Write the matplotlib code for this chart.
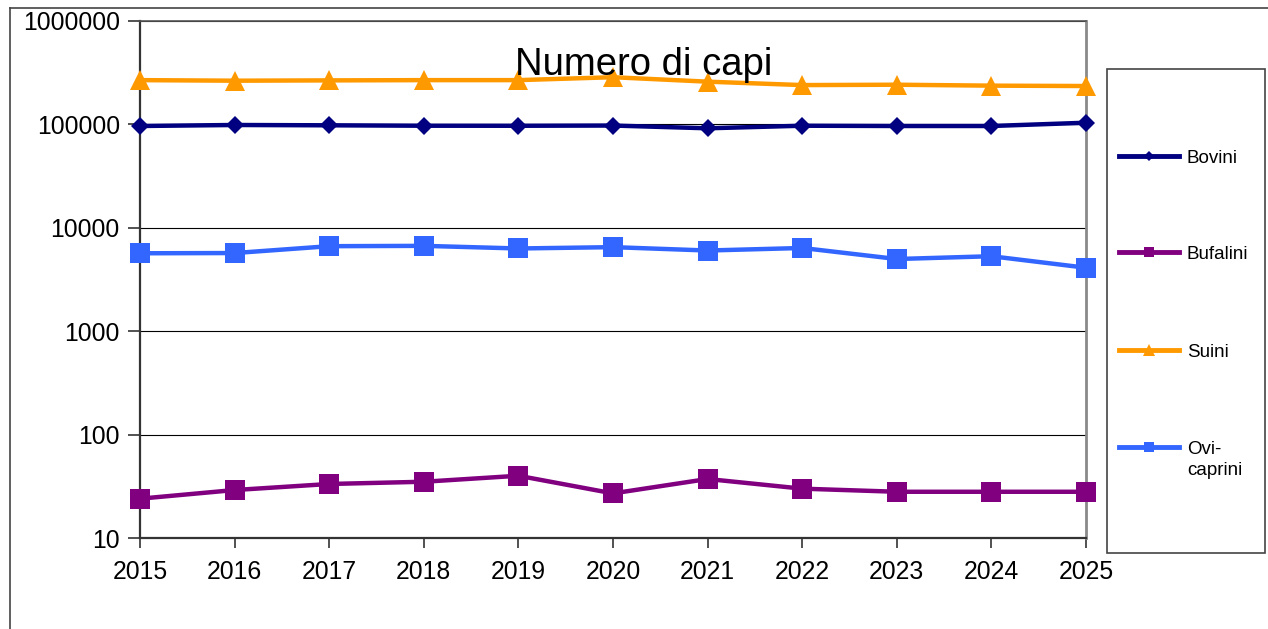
import matplotlib
matplotlib.use("Agg")
import matplotlib.pyplot as plt
from matplotlib.lines import Line2D
from matplotlib.patches import Rectangle
from matplotlib.ticker import FixedLocator, FixedFormatter, NullLocator

# ── Data ──────────────────────────────────────────────────────────────────────

years = [2015, 2016, 2017, 2018, 2019, 2020, 2021, 2022, 2023, 2024, 2025]

bovini   = [96500, 98700, 98000, 97100, 97000, 97500, 91700, 97100, 96500, 96500, 103800]
bufalini = [24.0, 29.1, 33.3, 35.0, 40.0, 27.0, 37.2, 30.0, 28.0, 28.0, 28.0]
suini    = [268000, 264600, 266500, 268000, 268000, 286000, 259000, 240000, 242000, 237000, 235000]
ovicapr  = [5670, 5700, 6640, 6690, 6310, 6500, 6030, 6380, 4990, 5310, 4110]

y_ticks  = [10, 100, 1000, 10000, 100000, 1000000]
y_labels = ["10", "100", "1000", "10000", "100000", "1000000"]

series = [
    ("Bovini",        bovini,   "#000080", "D", 9.5, 5.5),
    ("Bufalini",      bufalini, "#800080", "s", 14,  7.5),
    ("Suini",         suini,    "#FF9900", "^", 14,  9),
    ("Ovi-\ncaprini", ovicapr,  "#3366FF", "s", 14,  7.5),
]

plt.rcParams["font.family"] = ["Liberation Sans", "DejaVu Sans"]

W, H = 1268, 629
fig = plt.figure(figsize=(W / 100, H / 100), dpi=100)
fig.patch.set_facecolor("white")

def fx(px):
    return px / W

def fy(py):
    return 1 - py / H

ax = fig.add_axes([fx(140), fy(538), fx(1086) - fx(140), fy(21) - fy(538)])

for name, vals, col, mk, ms, _ in series:
    ax.plot(years, vals, color=col, lw=3.2, marker=mk, markersize=ms,
            markeredgewidth=0, clip_on=False, zorder=3)

ax.set_yscale("log")
ax.set_ylim(10, 1000000)
ax.set_xlim(2015, 2025)
ax.yaxis.set_major_locator(FixedLocator(y_ticks))
ax.yaxis.set_major_formatter(FixedFormatter(y_labels))
ax.yaxis.set_minor_locator(NullLocator())
ax.set_xticks(years)
ax.set_xticklabels([str(y) for y in years])

ax.grid(True, axis="y", color="black", lw=0.8, zorder=1)
ax.set_axisbelow(True)

ax.tick_params(axis="both", which="major", direction="out", labelsize=17.8,
               color="#333333", width=1.2)
ax.tick_params(axis="y", length=8.5, pad=6)
ax.tick_params(axis="x", length=7.5, pad=8)

for side in ["left", "bottom"]:
    ax.spines[side].set_color("#333333")
    ax.spines[side].set_linewidth(1.6)
ax.spines["top"].set_color("#555555")
ax.spines["top"].set_linewidth(1.2)
ax.spines["right"].set_color("#8a8a8a")
ax.spines["right"].set_linewidth(2)

fig.text(fx(644), fy(75), "Numero di capi", ha="center", va="baseline",
         fontsize=27.5, color="black", zorder=10)

# outer frame (only left and top edges visible)
fig.add_artist(Line2D([fx(9.5), fx(9.5)], [0, fy(7.5)], transform=fig.transFigure,
                      color="#444444", lw=1.2))
fig.add_artist(Line2D([fx(9.5), 1], [fy(7.5), fy(7.5)], transform=fig.transFigure,
                      color="#444444", lw=1.2))

# legend box drawn by hand
fig.add_artist(Rectangle((fx(1107), fy(553)), fx(1265) - fx(1107), fy(69) - fy(553),
                         transform=fig.transFigure, facecolor="white",
                         edgecolor="#444444", lw=1.2))
leg_y = [156, 252, 350, 447]
for (name, vals, col, mk, ms, lms), py in zip(series, leg_y):
    fig.add_artist(Line2D([fx(1119), fx(1149), fx(1179)], [fy(py)] * 3,
                          transform=fig.transFigure, color=col, lw=3.5,
                          marker=mk, markersize=lms, markeredgewidth=0,
                          markevery=[1]))
    for k, line in enumerate(name.split("\n")):
        fig.text(fx(1187), fy(py + 7 + 21 * k), line, ha="left", va="baseline",
                 fontsize=13.5, color="black")

fig.savefig("out.png", dpi=100, facecolor="white")
